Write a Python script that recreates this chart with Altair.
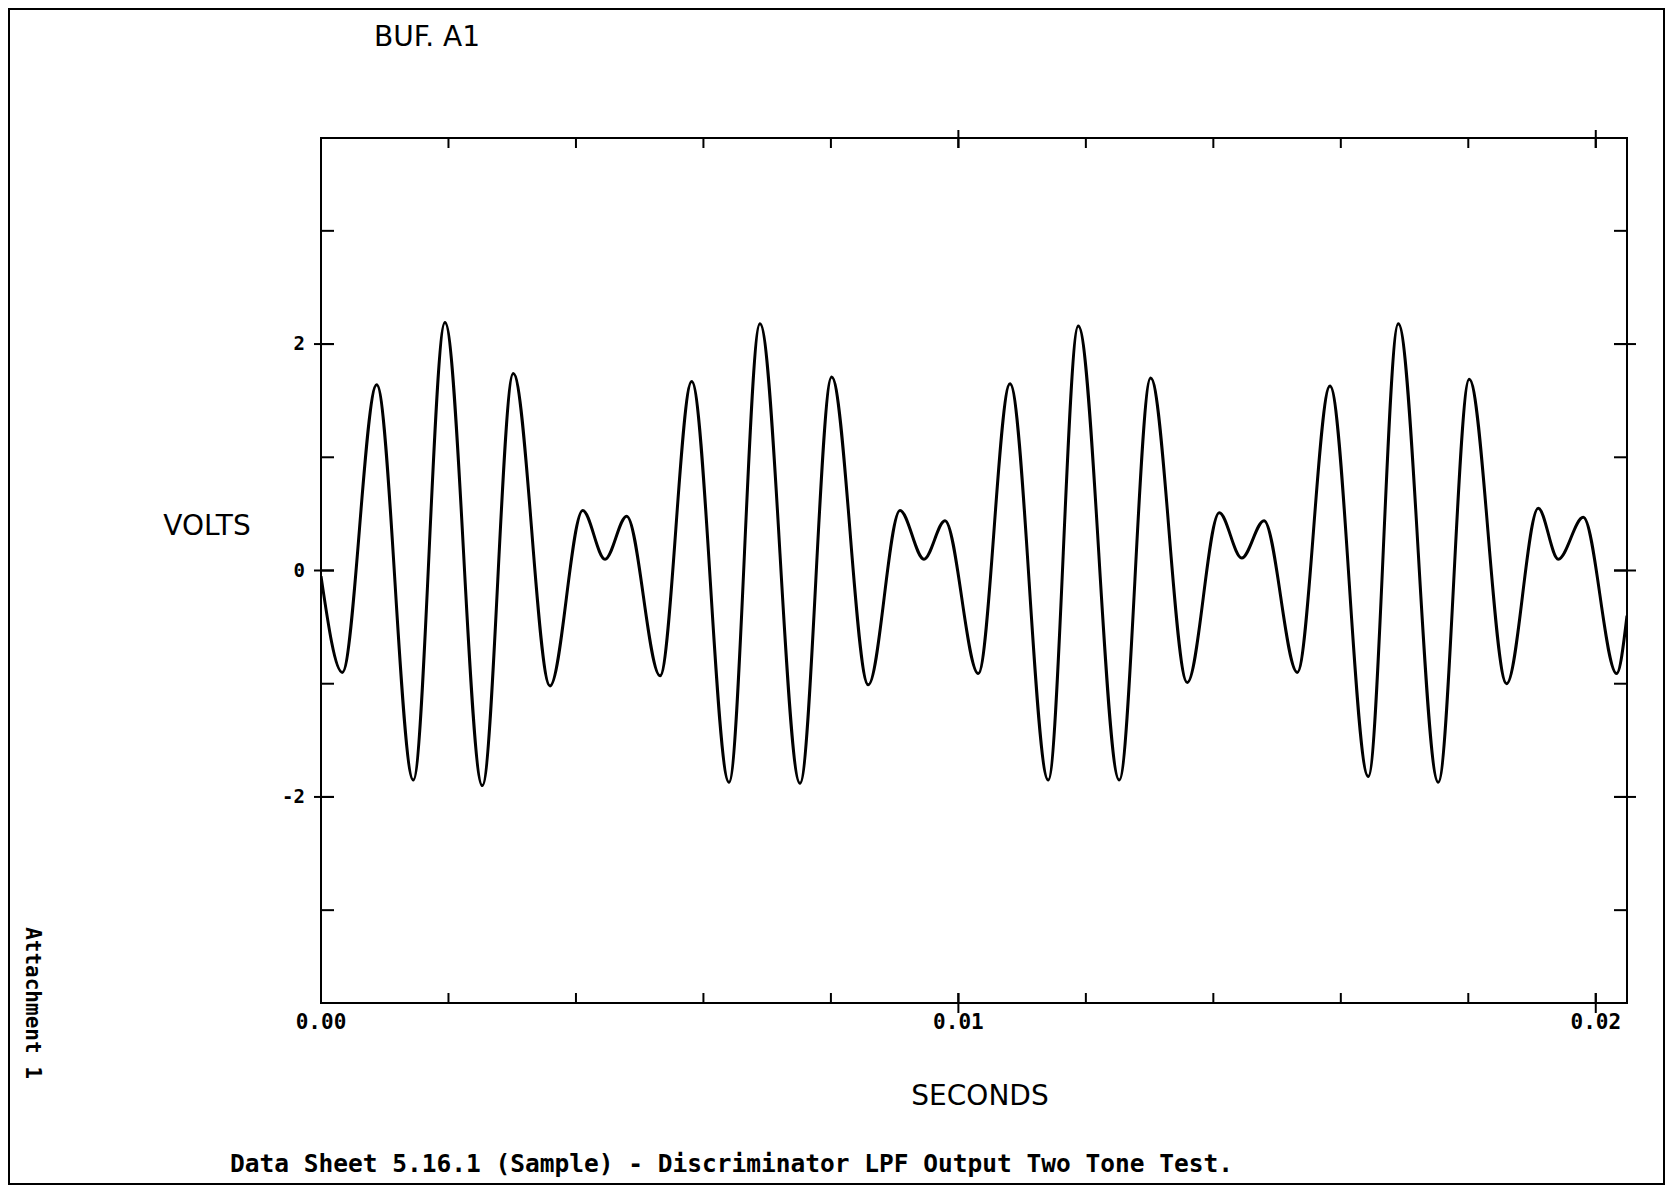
import altair as alt
import pandas as pd

# ---------------- text ----------------
TITLE = "BUF. A1"
Y_TITLE = "VOLTS"
X_TITLE = "SECONDS"
CAPTION = "Data Sheet 5.16.1 (Sample) - Discriminator LPF Output Two Tone Test."
SIDE_NOTE = "Attachment 1"

# ---------------- waveform (extrema) ----------------
time_s = [0.000000, 0.000334, 0.000874, 0.001448, 0.001945, 0.002531, 0.003017, 0.003593,
          0.004106, 0.004456, 0.004796, 0.005319, 0.005816, 0.006401, 0.006887, 0.007515,
          0.008012, 0.008587, 0.009084, 0.009460, 0.009790, 0.010312, 0.010810, 0.011410,
          0.011881, 0.012524, 0.013017, 0.013591, 0.014093, 0.014445, 0.014795, 0.015317,
          0.015830, 0.016431, 0.016902, 0.017529, 0.018015, 0.018602, 0.019098, 0.019412,
          0.019804, 0.020328, 0.020490]
volts = [-0.05, -0.90, 1.64, -1.85, 2.19, -1.90, 1.74, -1.02,
         0.53, 0.10, 0.48, -0.93, 1.67, -1.87, 2.18, -1.88,
         1.71, -1.01, 0.53, 0.10, 0.44, -0.91, 1.65, -1.85,
         2.16, -1.85, 1.70, -0.99, 0.51, 0.11, 0.44, -0.90,
         1.63, -1.82, 2.18, -1.87, 1.69, -1.00, 0.55, 0.10,
         0.47, -0.91, -0.40]

# ---------------- axes ----------------
x_tick_values = [0.002, 0.004, 0.006, 0.008, 0.010, 0.012, 0.014, 0.016, 0.018, 0.020]
x_cross_values = [0.01, 0.02]
x_label_values = [0.0, 0.01, 0.02]
x_label_texts = ["0.00", "0.01", "0.02"]
y_tick_values = [-3, -2, -1, 0, 1, 2, 3]
y_cross_values = [-2, 0, 2]
y_label_texts = ["-2", "0", "2"]

X_DOMAIN = [0.0, 0.02049]
Y_DOMAIN = [-3.82, 3.82]
W, H = 1306, 865

xs = alt.Scale(domain=X_DOMAIN, nice=False, zero=False)
ys = alt.Scale(domain=Y_DOMAIN, nice=False, zero=False)

wave_df = pd.DataFrame({"t": time_s, "v": volts})
xt_df = pd.DataFrame({"t": x_tick_values})
xc_df = pd.DataFrame({"t": x_cross_values})
xl_df = pd.DataFrame({"t": x_label_values, "label": x_label_texts})
yt_df = pd.DataFrame({"v": y_tick_values})
yc_df = pd.DataFrame({"v": y_cross_values, "label": y_label_texts})

X = lambda: alt.X("t:Q", scale=xs, axis=None)
Y = lambda: alt.Y("v:Q", scale=ys, axis=None)

wave = alt.Chart(wave_df).mark_line(
    interpolate="monotone", color="black", strokeWidth=3, clip=True
).encode(x=X(), y=Y())

tick_style = dict(color="black", strokeWidth=2)
x_bottom = alt.Chart(xt_df).mark_rule(**tick_style).encode(
    x=X(), y=alt.value(H), y2=alt.value(H - 10))
x_top = alt.Chart(xt_df).mark_rule(**tick_style).encode(
    x=X(), y=alt.value(0), y2=alt.value(10))
x_bottom_cross = alt.Chart(xc_df).mark_rule(**tick_style).encode(
    x=X(), y=alt.value(H - 10), y2=alt.value(H + 10))
x_top_cross = alt.Chart(xc_df).mark_rule(**tick_style).encode(
    x=X(), y=alt.value(-8), y2=alt.value(10))

y_left = alt.Chart(yt_df).mark_rule(**tick_style).encode(
    y=Y(), x=alt.value(0), x2=alt.value(13))
y_right = alt.Chart(yt_df).mark_rule(**tick_style).encode(
    y=Y(), x=alt.value(W - 13), x2=alt.value(W))
y_left_cross = alt.Chart(yc_df).mark_rule(**tick_style).encode(
    y=Y(), x=alt.value(-7), x2=alt.value(13))
y_right_cross = alt.Chart(yc_df).mark_rule(**tick_style).encode(
    y=Y(), x=alt.value(W - 13), x2=alt.value(W + 9))

x_labels = alt.Chart(xl_df).mark_text(
    font="DejaVu Sans Mono", fontWeight="bold", fontSize=21, color="black",
    align="center", baseline="middle"
).encode(x=X(), y=alt.value(H + 20), text="label:N")

y_labels = alt.Chart(yc_df).mark_text(
    font="DejaVu Sans Mono", fontWeight="bold", fontSize=19, color="black",
    align="right", baseline="middle"
).encode(y=Y(), x=alt.value(-16), text="label:N")


def fixed_text(txt, x, y, **kw):
    return alt.Chart(pd.DataFrame({"label": [txt]})).mark_text(
        color="black", baseline="middle", **kw
    ).encode(x=alt.value(x), y=alt.value(y), text="label:N")


title_t = fixed_text(TITLE, 106, -100, font="DejaVu Sans", fontSize=28, align="center")
ytitle_t = fixed_text(Y_TITLE, -114, 389, font="DejaVu Sans", fontSize=28, align="center")
xtitle_t = fixed_text(X_TITLE, 659, 959, font="DejaVu Sans", fontSize=28, align="center")
caption_t = fixed_text(CAPTION, -91, 1027, font="DejaVu Sans Mono", fontWeight="bold",
                       fontSize=24.5, align="left")
side_t = fixed_text(SIDE_NOTE, -289, 865, font="DejaVu Sans Mono", fontWeight="bold",
                    fontSize=21, align="center", angle=90)

border = alt.Chart(pd.DataFrame({"k": [0]})).mark_rect(
    filled=False, stroke="black", strokeWidth=2
).encode(x=alt.value(-312), x2=alt.value(W + 37), y=alt.value(-129), y2=alt.value(H + 181))

chart = alt.layer(
    border, wave, x_bottom, x_top, x_bottom_cross, x_top_cross,
    y_left, y_right, y_left_cross, y_right_cross,
    x_labels, y_labels, title_t, ytitle_t, xtitle_t, caption_t, side_t
).properties(
    width=W, height=H,
    autosize=alt.AutoSizeParams(type="none"),
    padding={"left": 313, "top": 130, "right": 38, "bottom": 183},
    background="white",
).configure_view(stroke="black", strokeWidth=2)

chart.save("out.html", embed_options={"renderer": "svg", "actions": False})
